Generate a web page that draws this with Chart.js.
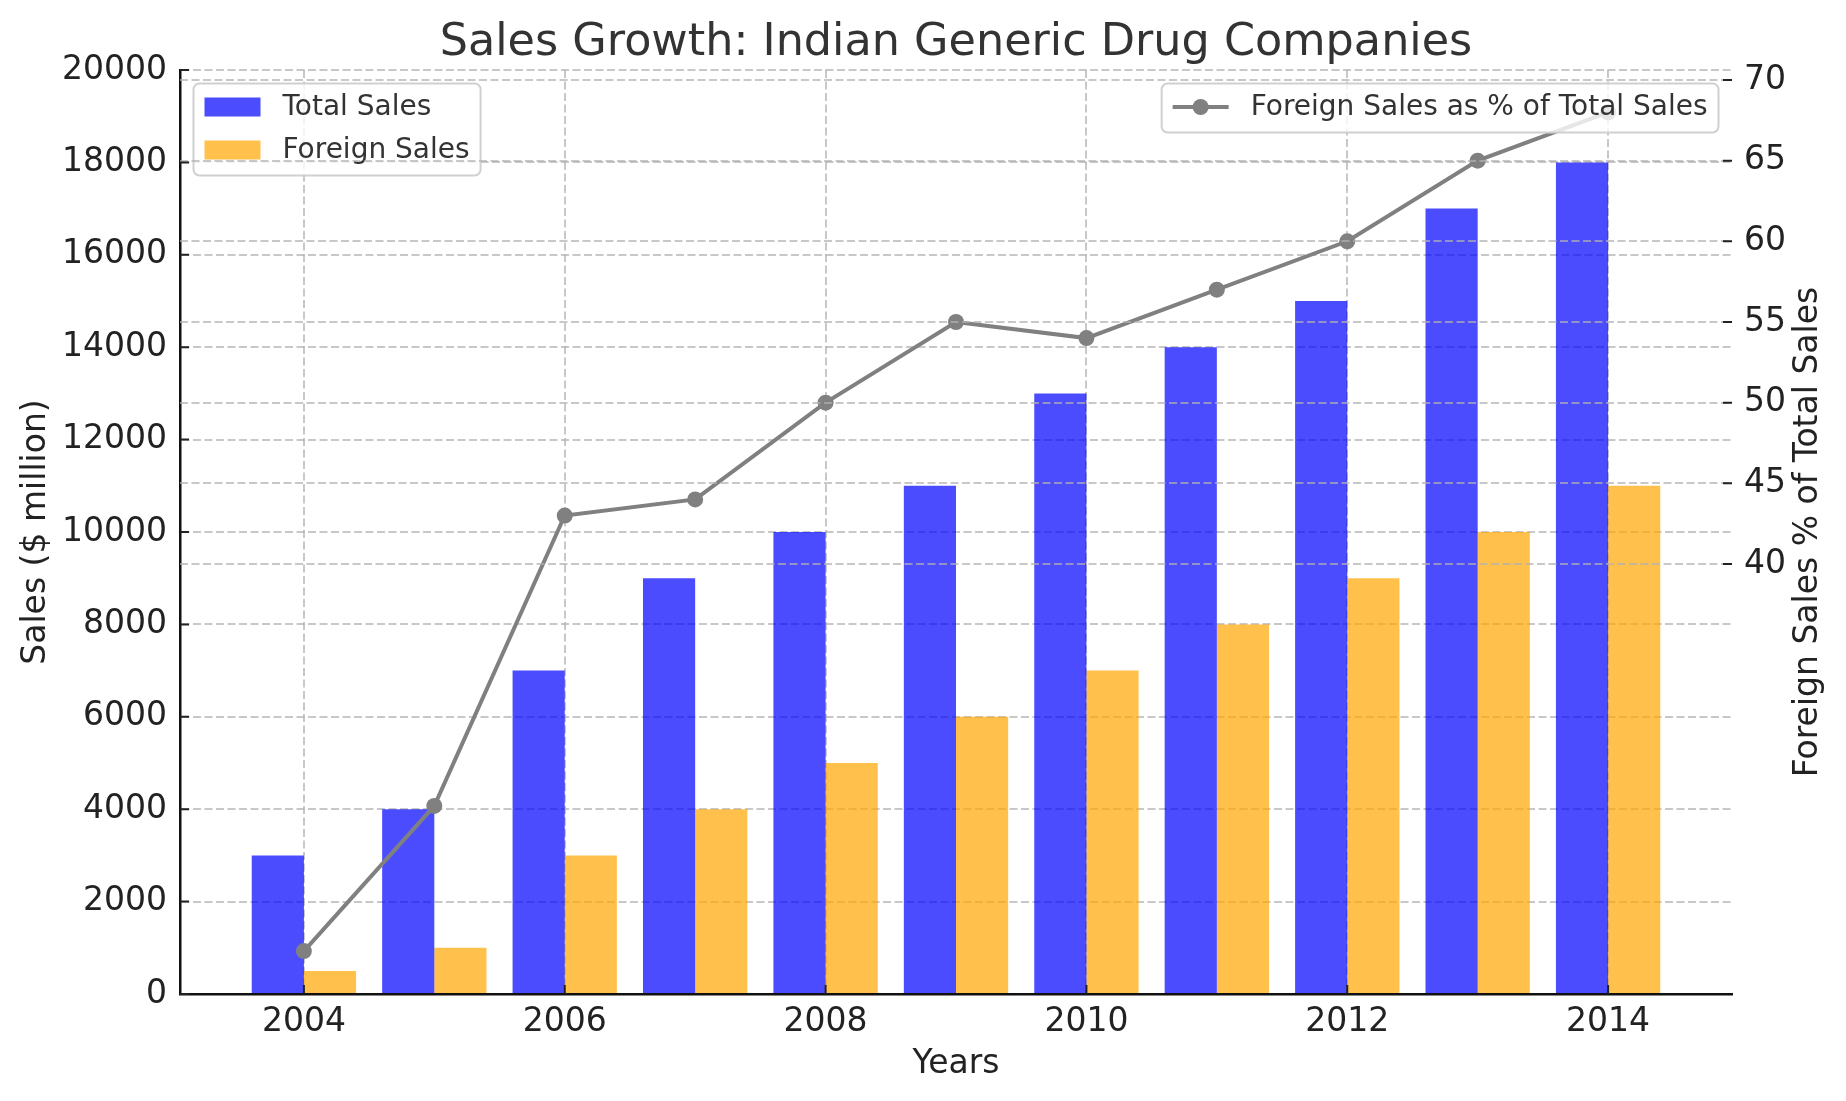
<!DOCTYPE html>
<html>
<head>
<meta charset="utf-8">
<title>Sales Growth: Indian Generic Drug Companies</title>
<script src="https://cdn.jsdelivr.net/npm/chart.js@4.4.1/dist/chart.umd.min.js"></script>
<style>
	html, body { margin: 0; padding: 0; background: #fff; }
	#wrap { width: 1846px; height: 1101px; }
</style>
</head>
<body>
<div id="wrap"><canvas id="salesChart" width="1846" height="1101"></canvas></div>
<script>
var years = [2004, 2005, 2006, 2007, 2008, 2009, 2010, 2011, 2012, 2013, 2014];
var totalSales = [3000, 4000, 7000, 9000, 10000, 11000, 13000, 14000, 15000, 17000, 18000];
var foreignSales = [500, 1000, 3000, 4000, 5000, 6000, 7000, 8000, 9000, 10000, 11000];
var foreignShare = [16, 25, 43, 44, 50, 55, 54, 57, 60, 65, 68];
var yearTicks = [2004, 2006, 2008, 2010, 2012, 2014];
var salesTicks = [0, 2000, 4000, 6000, 8000, 10000, 12000, 14000, 16000, 18000, 20000];
var shareTicks = [40, 45, 50, 55, 60, 65, 70];

document.addEventListener('DOMContentLoaded', function() {
	var font = 'DejaVu Sans';
	var textColor = '#222';
	var gridColor = 'rgba(176, 176, 176, 0.7)';
	var gridDash = [8, 3.5];
	var chartTitle = 'Sales Growth: Indian Generic Drug Companies';
	var rightTitle = 'Foreign Sales % of Total Sales';

	function points(values) {
		return years.map(function(year, i) {
			return {x: year, y: values[i]};
		});
	}

	function setTicks(list) {
		return function(scale) {
			scale.ticks = list.map(function(v) {
				return {value: v};
			});
		};
	}

	function plain(value) {
		return String(value);
	}

	function drawLegend(chart, items, side) {
		var ctx = chart.ctx;
		var area = chart.chartArea;
		var pad = 11, handle = 56, gap = 22, pitch = 43;
		var textW = 0;

		ctx.save();
		ctx.font = '28px "' + font + '"';
		items.forEach(function(ds) {
			textW = Math.max(textW, ctx.measureText(ds.label).width);
		});
		var w = pad * 2 + handle + gap + textW;
		var h = 49 + pitch * (items.length - 1);
		var x0 = side === 'left' ? area.left + 13.5 : area.right - 13.5 - w;
		var y0 = area.top + 13.5;

		ctx.beginPath();
		ctx.roundRect(x0, y0, w, h, 6);
		ctx.fillStyle = 'rgba(255, 255, 255, 0.8)';
		ctx.fill();
		ctx.strokeStyle = '#d0d0d0';
		ctx.lineWidth = 2;
		ctx.stroke();

		items.forEach(function(ds, i) {
			var cy = y0 + 23.5 + i * pitch;
			var hx = x0 + pad;
			if (ds.type === 'line') {
				ctx.strokeStyle = ds.borderColor;
				ctx.lineWidth = ds.borderWidth;
				ctx.beginPath();
				ctx.moveTo(hx, cy);
				ctx.lineTo(hx + handle, cy);
				ctx.stroke();
				ctx.fillStyle = ds.pointBackgroundColor;
				ctx.beginPath();
				ctx.arc(hx + handle / 2, cy, ds.pointRadius, 0, Math.PI * 2);
				ctx.fill();
			} else {
				ctx.fillStyle = ds.backgroundColor;
				ctx.fillRect(hx, cy - 9.5, handle, 19);
			}
			ctx.fillStyle = '#333';
			ctx.textAlign = 'left';
			ctx.textBaseline = 'middle';
			ctx.fillText(ds.label, hx + handle + gap, cy + 1);
		});
		ctx.restore();
	}

	var legends = {
		id: 'legends',
		afterDatasetsDraw: function(chart) {
			// bar legend sits under the right axis grid, like ax1 under ax2
			drawLegend(chart, chart.data.datasets.filter(function(ds) {
				return ds.type !== 'line';
			}), 'left');
		},
		afterDraw: function(chart) {
			drawLegend(chart, chart.data.datasets.filter(function(ds) {
				return ds.type === 'line';
			}), 'right');
		}
	};

	// matplotlib style: ticks point inwards, title centred on the plot,
	// right label reads bottom-up
	var axisExtras = {
		id: 'axisExtras',
		afterDraw: function(chart) {
			var ctx = chart.ctx;
			var area = chart.chartArea;
			var s = chart.scales;

			ctx.save();
			ctx.strokeStyle = textColor;
			ctx.lineWidth = 2;
			ctx.beginPath();
			s.x.ticks.forEach(function(t) {
				var px = s.x.getPixelForValue(t.value);
				ctx.moveTo(px, area.bottom);
				ctx.lineTo(px, area.bottom - 9);
			});
			s.y.ticks.forEach(function(t) {
				var py = s.y.getPixelForValue(t.value);
				ctx.moveTo(area.left, py);
				ctx.lineTo(area.left + 9, py);
			});
			s.y2.ticks.forEach(function(t) {
				var py = s.y2.getPixelForValue(t.value);
				ctx.moveTo(area.right, py);
				ctx.lineTo(area.right - 9, py);
			});
			ctx.stroke();

			ctx.fillStyle = '#333';
			ctx.textAlign = 'center';
			ctx.textBaseline = 'alphabetic';
			ctx.font = '44.5px "' + font + '"';
			ctx.fillText(chartTitle, (area.left + area.right) / 2, 54.5);

			ctx.translate(area.right + 85, (area.top + area.bottom) / 2);
			ctx.rotate(-Math.PI / 2);
			ctx.font = '33px "' + font + '"';
			ctx.fillStyle = textColor;
			ctx.fillText(rightTitle, 0, 0);
			ctx.restore();
		}
	};

	var tickFont = {family: font, size: 33};

	new Chart(document.getElementById('salesChart'), {
		type: 'bar',
		data: {
			datasets: [{
				type: 'line',
				label: 'Foreign Sales as % of Total Sales',
				data: points(foreignShare),
				yAxisID: 'y2',
				order: 0,
				borderColor: '#808080',
				backgroundColor: '#808080',
				pointBackgroundColor: '#808080',
				borderWidth: 4,
				pointRadius: 8,
				pointBorderWidth: 0,
				tension: 0
			}, {
				label: 'Total Sales',
				data: points(totalSales),
				yAxisID: 'y',
				order: 1,
				backgroundColor: 'rgba(0, 0, 255, 0.7)',
				borderWidth: 0,
				categoryPercentage: 0.8,
				barPercentage: 1
			}, {
				label: 'Foreign Sales',
				data: points(foreignSales),
				yAxisID: 'y',
				order: 2,
				backgroundColor: 'rgba(255, 165, 0, 0.7)',
				borderWidth: 0,
				categoryPercentage: 0.8,
				barPercentage: 1
			}]
		},
		options: {
			responsive: false,
			animation: false,
			layout: {padding: {top: 70, left: 0, right: 0, bottom: 0}},
			plugins: {
				legend: {display: false},
				tooltip: {enabled: false},
				title: {display: false}
			},
			scales: {
				x: {
					type: 'linear',
					offset: false,
					min: 2003.05,
					max: 2014.95,
					afterBuildTicks: setTicks(yearTicks),
					afterFit: function(scale) {
						scale.height = 107;
					},
					ticks: {
						callback: plain,
						font: tickFont,
						color: textColor,
						padding: 8.5,
						maxRotation: 0,
						autoSkip: false
					},
					grid: {color: gridColor, lineWidth: 2, drawTicks: false, offset: false},
					border: {display: true, color: '#111', width: 2.5, dash: gridDash},
					title: {
						display: true,
						text: 'Years',
						color: textColor,
						font: tickFont,
						padding: {top: 0, bottom: 16.5}
					}
				},
				y: {
					position: 'left',
					min: 0,
					max: 20000,
					afterBuildTicks: setTicks(salesTicks),
					afterFit: function(scale) {
						scale.width = 180;
					},
					ticks: {callback: plain, font: tickFont, color: textColor, padding: 13},
					grid: {color: gridColor, lineWidth: 2, drawTicks: false},
					border: {display: true, color: '#111', width: 2.5, dash: gridDash},
					title: {
						display: true,
						text: 'Sales ($ million)',
						color: textColor,
						font: tickFont,
						padding: {top: 17, bottom: 0}
					}
				},
				y2: {
					position: 'right',
					min: 13.34,
					max: 70.62,
					afterBuildTicks: setTicks(shareTicks),
					afterFit: function(scale) {
						scale.width = 114;
					},
					ticks: {callback: plain, font: tickFont, color: textColor, padding: 12},
					grid: {color: gridColor, lineWidth: 2, drawTicks: false, z: 1},
					border: {display: false, dash: gridDash}
				}
			}
		},
		plugins: [legends, axisExtras]
	});
}, false);
</script>
</body>
</html>
